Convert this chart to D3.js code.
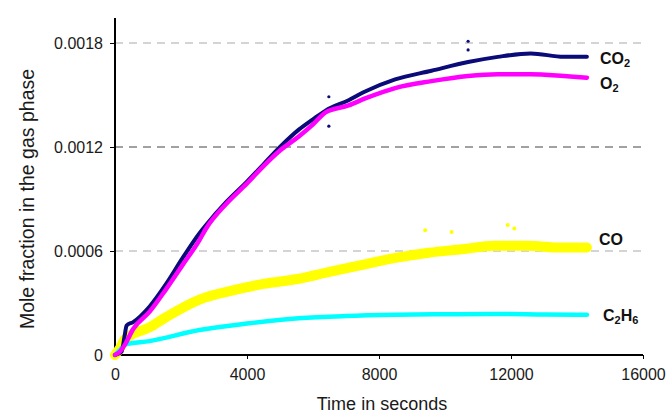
<!DOCTYPE html>
<html><head><meta charset="utf-8">
<script src="https://cdn.jsdelivr.net/npm/d3@7"></script>
<style>body{margin:0;background:#fff}svg{display:block;font-family:Arial,"Liberation Sans",sans-serif}</style>
</head><body><svg id="c" width="667" height="414"></svg>
<script>
// Data (time in seconds, mole fraction)
const xTicks = [0, 4000, 8000, 12000, 16000];
const yTicks = [0, 0.0006, 0.0012, 0.0018];
const co2T = [0, 200, 300, 350, 550, 1050, 1550, 2050, 2550, 2760, 3360, 4000, 4500, 5000, 5570, 6000, 6380, 7080, 7580, 8490, 9590, 10700, 11600, 12600, 13600, 14300];
const co2V = [0, 0.00002, 0.00012, 0.00017, 0.00019, 0.00028, 0.00041, 0.00056, 0.00070, 0.00075, 0.00088, 0.00100, 0.00110, 0.00120, 0.00130, 0.00136, 0.00141, 0.00147, 0.00152, 0.00159, 0.00164, 0.00169, 0.00172, 0.00174, 0.00172, 0.00172];
const o2T = [0, 150, 300, 550, 1050, 1550, 2050, 2550, 2760, 3360, 4000, 4500, 5000, 5570, 6000, 6380, 7080, 7580, 8490, 9590, 10700, 11600, 12600, 13600, 14300];
const o2V = [0, 0.00002, 0.00006, 0.00015, 0.00025, 0.00038, 0.00052, 0.00066, 0.00073, 0.00087, 0.00099, 0.00109, 0.00118, 0.00126, 0.00133, 0.00140, 0.00144, 0.00148, 0.00154, 0.00158, 0.00161, 0.00162, 0.00162, 0.00161, 0.00160];
const coT = [0, 150, 300, 1050, 1560, 2560, 3500, 4500, 5570, 6500, 7500, 8500, 9500, 10500, 11500, 12500, 13500, 14300];
const coV = [0, 0.00004, 0.00009, 0.00016, 0.00022, 0.00032, 0.00037, 0.00041, 0.00044, 0.00048, 0.00052, 0.00056, 0.00059, 0.00061, 0.00063, 0.00063, 0.00062, 0.00062];
const c2h6T = [0, 150, 300, 1050, 2560, 4070, 5570, 7000, 8500, 10000, 11500, 13000, 14300];
const c2h6V = [0, 0.00003, 0.00006, 0.00008, 0.000144, 0.000183, 0.000212, 0.000225, 0.000232, 0.000235, 0.000237, 0.000234, 0.000232];
const co2OutT = [6480, 6480, 10700, 10700];
const co2OutV = [0.00149, 0.00132, 0.00181, 0.00176];
const coOutT = [9400, 10200, 11900, 12100];
const coOutV = [0.00072, 0.00071, 0.00075, 0.00073];

const svg = d3.select("#c");
const x = d3.scaleLinear().domain([0, 16000]).range([115, 643]);
const y = d3.scaleLinear().domain([0, 0.0019442]).range([355, 18]);

// gridlines
svg.append("g").selectAll("line").data(yTicks.filter(d => d > 0)).join("line")
  .attr("x1", x(0)).attr("x2", 643).attr("y1", d => y(d)).attr("y2", d => y(d))
  .attr("stroke", d => Math.abs(d - 0.0012) < 1e-9 ? "#444" : "#aaa")
  .attr("stroke-width", 1.2).attr("stroke-dasharray", "8,6");

// axes
const xa = svg.append("g").attr("transform", "translate(0,355)")
  .call(d3.axisBottom(x).tickValues(xTicks).tickSize(4).tickFormat(d3.format("d")));
const ya = svg.append("g").attr("transform", "translate(115,0)")
  .call(d3.axisLeft(y).tickValues(yTicks).tickSize(5).tickFormat(d => d === 0 ? "0" : d.toFixed(4)));
[xa, ya].forEach(a => {
  a.select(".domain").attr("stroke", "#000").attr("stroke-width", 2);
  a.selectAll(".tick line").attr("stroke", "#000");
  a.selectAll("text").attr("font-size", 16).attr("fill", "#1a1a1a").attr("font-family", "Arial, 'Liberation Sans', sans-serif");
});
ya.select(".domain").attr("d", "M0,18V355");
xa.select(".domain").attr("d", "M115,0H643");
xa.selectAll("text").attr("dy", "1.15em");
ya.selectAll("text").attr("x", -12);

// series
const line = d3.line().x(d => x(d[0])).y(d => y(d[1])).curve(d3.curveMonotoneX);
function series(T, V, color, w) {
  svg.append("path").datum(T.map((t, i) => [t, V[i]])).attr("d", line)
    .attr("fill", "none").attr("stroke", color).attr("stroke-width", w)
    .attr("stroke-linejoin", "round").attr("stroke-linecap", "round");
}
series(coT, coV, "#ffff00", 10);
svg.append("g").selectAll("circle").data(coOutT).join("circle")
  .attr("cx", d => x(d)).attr("cy", (d, i) => y(coOutV[i])).attr("r", 2).attr("fill", "#ffff00");
series(c2h6T, c2h6V, "#00ffff", 4.5);
series(co2T, co2V, "#0a0a78", 4);
series(o2T, o2V, "#ff00ff", 4.5);
svg.append("g").selectAll("circle").data(co2OutT).join("circle")
  .attr("cx", d => x(d)).attr("cy", (d, i) => y(co2OutV[i])).attr("r", 1.6).attr("fill", "#0a0a78");

// labels
function label(px, py, main, sub, rest) {
  const t = svg.append("text").attr("x", px).attr("y", py).attr("font-size", 16)
    .attr("font-weight", "bold").attr("fill", "#111");
  t.append("tspan").text(main);
  if (sub) {
    t.append("tspan").attr("font-size", 11).attr("dy", 3).text(sub);
    if (rest) {
      t.append("tspan").attr("dy", -3).text(rest.main);
      t.append("tspan").attr("font-size", 11).attr("dy", 3).text(rest.sub);
    }
  }
}
label(600, 64, "CO", "2");
label(600, 89, "O", "2");
label(599, 245, "CO");
label(603, 321, "C", "2", {main: "H", sub: "6"});

// axis titles
svg.append("text").attr("x", 382).attr("y", 410).attr("text-anchor", "middle")
  .attr("font-size", 18).attr("fill", "#1a1a1a").text("Time in seconds");
svg.append("text").attr("transform", "translate(34,199) rotate(-90)").attr("text-anchor", "middle")
  .attr("font-size", 19.5).attr("fill", "#1a1a1a").text("Mole fraction in the gas phase");
</script></body></html>
